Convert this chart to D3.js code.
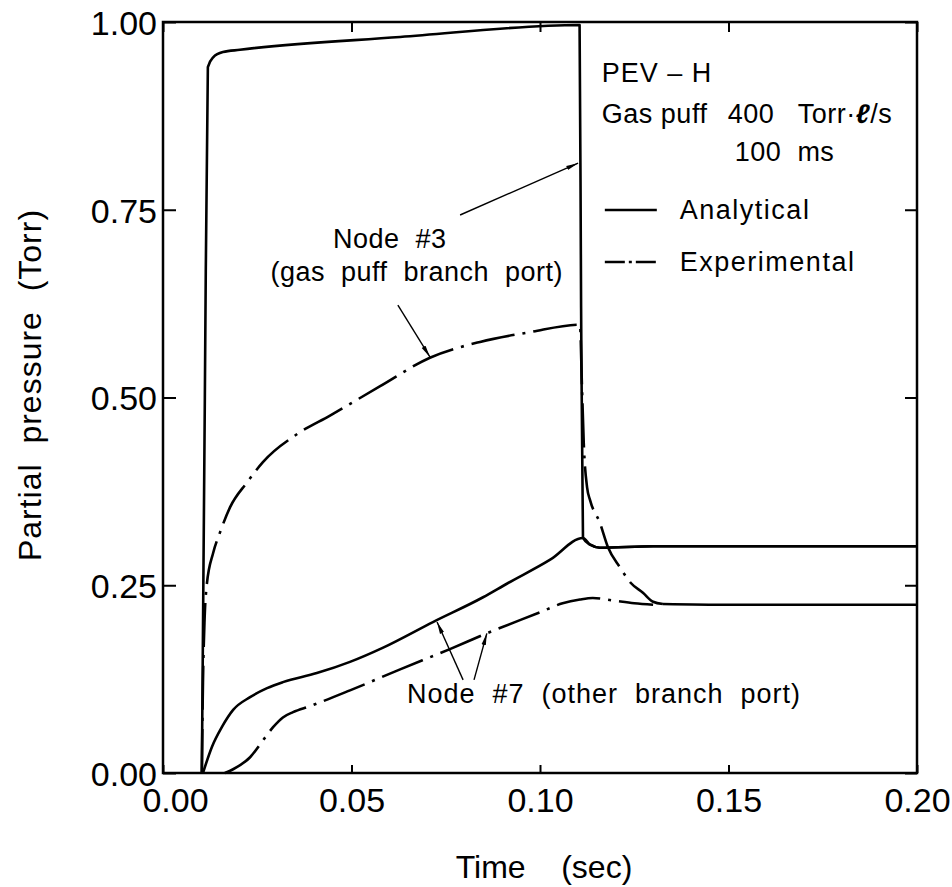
<!DOCTYPE html>
<html>
<head>
<meta charset="utf-8">
<script src="https://cdn.jsdelivr.net/npm/d3@7"></script>
<style>
  body { margin: 0; background: #fff; }
  text { font-family: "Liberation Sans", Arial, sans-serif; fill: #000; white-space: pre; }
</style>
</head>
<body>
<svg id="chart" width="952" height="887"></svg>
<script>
// ---- data (time in s, partial pressure in Torr) ----
const node3Analytical = [
  [0.0103, 0.000], [0.0111, 0.500], [0.0119, 0.940], [0.0133, 0.953], [0.0159, 0.960],
  [0.0204, 0.963], [0.0629, 0.980], [0.1105, 0.996], [0.1109, 0.620], [0.1114, 0.313],
  [0.1133, 0.304], [0.1159, 0.300], [0.1300, 0.302], [0.2000, 0.302]
];
const node3Experimental = [
  [0.0103, 0.000], [0.0106, 0.120], [0.0110, 0.200], [0.0116, 0.250], [0.0133, 0.293],
  [0.0151, 0.320], [0.0178, 0.354], [0.0223, 0.387], [0.0265, 0.414], [0.0355, 0.451],
  [0.0443, 0.476], [0.0576, 0.515], [0.0708, 0.553], [0.0841, 0.574], [0.0973, 0.587],
  [0.1106, 0.597], [0.1111, 0.520], [0.1116, 0.440], [0.1125, 0.380], [0.1133, 0.363],
  [0.1159, 0.333], [0.1180, 0.301], [0.1212, 0.274], [0.1241, 0.253], [0.1273, 0.240],
  [0.1300, 0.228], [0.1326, 0.225], [0.1500, 0.224], [0.2000, 0.224]
];
const node7Analytical = [
  [0.0106, 0.000], [0.0130, 0.035], [0.0156, 0.061], [0.0186, 0.084], [0.0231, 0.101],
  [0.0276, 0.113], [0.0318, 0.121], [0.0408, 0.133], [0.0496, 0.148], [0.0584, 0.167],
  [0.0716, 0.201], [0.0849, 0.234], [0.0912, 0.252], [0.1027, 0.284], [0.1114, 0.313],
  [0.1133, 0.304], [0.1159, 0.300], [0.1300, 0.302], [0.2000, 0.302]
];
const node7Experimental = [
  [0.0164, 0.000], [0.0186, 0.005], [0.0231, 0.021], [0.0266, 0.044], [0.0292, 0.061],
  [0.0318, 0.074], [0.0345, 0.081], [0.0390, 0.089], [0.0496, 0.110], [0.0629, 0.138],
  [0.0761, 0.165], [0.0859, 0.186], [0.1000, 0.214], [0.1060, 0.226], [0.1106, 0.231],
  [0.1140, 0.233], [0.1190, 0.230], [0.1250, 0.226], [0.1300, 0.224]
];
// where both experimental curves coincide, the trace is drawn solid
const mergeStart = 0.1326;
const xTicks = [0, 0.05, 0.10, 0.15, 0.20];
const yTicks = [0, 0.25, 0.50, 0.75, 1.00];
const xTickLabels = ["0.00", "0.05", "0.10", "0.15", "0.20"];
const yTickLabels = ["0.00", "0.25", "0.50", "0.75", "1.00"];
const legendLines = ["PEV \u2013 H", "Gas puff", "100  ms"];
const seriesLabels = ["Analytical", "Experimental"];

// annotation anchors in data units: [t, v]
const arrows = [
  [[0.0788, 0.743], [0.1101, 0.812]],
  [[0.0623, 0.623], [0.0708, 0.554]],
  [[0.0796, 0.124], [0.0727, 0.201]],
  [[0.0825, 0.124], [0.0859, 0.186]]
];

// ---- layout ----
const W = 952, H = 887;
const m = { left: 163, top: 22, right: 35, bottom: 114 };
const iw = W - m.left - m.right, ih = H - m.top - m.bottom;
const svg = d3.select("#chart");
const g = svg.append("g").attr("transform", `translate(${m.left},${m.top})`);

const x = d3.scaleLinear().domain([0, 0.20]).range([0, iw]);
const y = d3.scaleLinear().domain([0, 1.00]).range([ih, 0]);

const tickFont = "34px";

// axes with inward ticks
const xb = g.append("g").attr("transform", `translate(0,${ih})`)
  .call(d3.axisBottom(x).tickValues(xTicks).tickFormat((d, i) => xTickLabels[i])
    .tickSizeInner(-8).tickSizeOuter(0).tickPadding(15));
xb.selectAll("text").style("font-size", tickFont)
  .attr("dx", (d, i) => i === 0 ? 12 : 0);
const xt = g.append("g")
  .call(d3.axisTop(x).tickValues(xTicks).tickFormat("").tickSizeInner(-10).tickSizeOuter(0));
const yl = g.append("g")
  .call(d3.axisLeft(y).tickValues(yTicks).tickFormat((d, i) => yTickLabels[i])
    .tickSizeInner(-13).tickSizeOuter(0).tickPadding(6));
yl.selectAll("text").style("font-size", tickFont).attr("dy", "0.36em");
const yr = g.append("g").attr("transform", `translate(${iw},0)`)
  .call(d3.axisRight(y).tickValues(yTicks).tickFormat("").tickSizeInner(-12).tickSizeOuter(0));

[xb, xt, yl, yr].forEach(a => {
  a.select(".domain").remove();
  a.selectAll("line").attr("stroke", "#000").attr("stroke-width", 2);
});

// frame
g.append("rect").attr("x", 0).attr("y", 0).attr("width", iw).attr("height", ih)
  .attr("fill", "none").attr("stroke", "#000").attr("stroke-width", 2.5);

// curves
const line = d3.line().x(d => x(d[0])).y(d => y(d[1])).curve(d3.curveMonotoneX);
const dashDot = "44,8,3,8";
const series = [
  { data: node3Analytical, dash: null },
  { data: node7Analytical, dash: null },
  { data: node3Experimental.filter(d => d[0] <= mergeStart), dash: dashDot },
  { data: node3Experimental.filter(d => d[0] >= mergeStart), dash: null },
  { data: node7Experimental, dash: dashDot }
];
g.selectAll("path.curve").data(series).join("path")
  .attr("class", "curve")
  .attr("d", d => line(d.data))
  .attr("fill", "none").attr("stroke", "#000").attr("stroke-width", 2.6)
  .attr("stroke-linejoin", "round")
  .attr("stroke-dasharray", d => d.dash);

// arrows
svg.append("defs").append("marker")
  .attr("id", "ah").attr("viewBox", "0 0 12 6").attr("refX", 12).attr("refY", 3)
  .attr("markerWidth", 12).attr("markerHeight", 6).attr("markerUnits", "userSpaceOnUse")
  .attr("orient", "auto")
  .append("path").attr("d", "M0,0.8 L12,3 L0,5.2 Z").attr("fill", "#000");
g.selectAll("line.arrow").data(arrows).join("line")
  .attr("class", "arrow")
  .attr("x1", d => x(d[0][0])).attr("y1", d => y(d[0][1]))
  .attr("x2", d => x(d[1][0])).attr("y2", d => y(d[1][1]))
  .attr("stroke", "#000").attr("stroke-width", 1.4).attr("marker-end", "url(#ah)");

// annotation texts
const annFont = "27px";
g.append("text").attr("x", x(0.0451)).attr("y", y(0.699)).style("font-size", annFont)
  .style("letter-spacing", "0.5px").text("Node  #3");
g.append("text").attr("x", x(0.0285)).attr("y", y(0.655)).style("font-size", annFont)
  .style("letter-spacing", "0.5px").text("(gas  puff  branch  port)");
g.append("text").attr("x", x(0.0647)).attr("y", y(0.093)).style("font-size", annFont)
  .style("letter-spacing", "1px").text("Node  #7  (other  branch  port)");

// legend block (top-right)
const lg = g.append("g").attr("transform", `translate(${x(0.1164)},0)`);
lg.append("text").attr("x", 0).attr("y", 60).style("font-size", annFont)
  .style("letter-spacing", "1px").text(legendLines[0]);
const gp = lg.append("text").attr("x", 0).attr("y", 101).style("font-size", annFont)
  .style("letter-spacing", "0.5px");
gp.append("tspan").text(legendLines[1]);
gp.append("tspan").attr("x", 126).text("400");
gp.append("tspan").attr("x", 196).text("Torr\u00b7");
gp.append("tspan").style("font-weight", "bold").style("font-style", "italic").text("\u2113");
gp.append("tspan").text("/s");
lg.append("text").attr("x", 133).attr("y", 139).style("font-size", annFont)
  .style("letter-spacing", "0.5px").text(legendLines[2]);

const legendRows = [
  { label: seriesLabels[0], dash: null, yy: 188 },
  { label: seriesLabels[1], dash: "20,4,3,4", yy: 240 }
];
legendRows.forEach(r => {
  lg.append("line").attr("x1", 3).attr("x2", 55).attr("y1", r.yy).attr("y2", r.yy)
    .attr("stroke", "#000").attr("stroke-width", 2.4).attr("stroke-dasharray", r.dash);
  lg.append("text").attr("x", 78).attr("y", r.yy + 9).style("font-size", annFont)
    .style("letter-spacing", "1.5px").text(r.label);
});

// axis titles
svg.append("text").attr("x", 544).attr("y", 878).attr("text-anchor", "middle")
  .style("font-size", "32px").text("Time    (sec)");
svg.append("text").attr("transform", "translate(41,385) rotate(-90)")
  .attr("text-anchor", "middle").style("font-size", "32px").style("letter-spacing", "1px")
  .text("Partial  pressure  (Torr)");
</script>
</body>
</html>
